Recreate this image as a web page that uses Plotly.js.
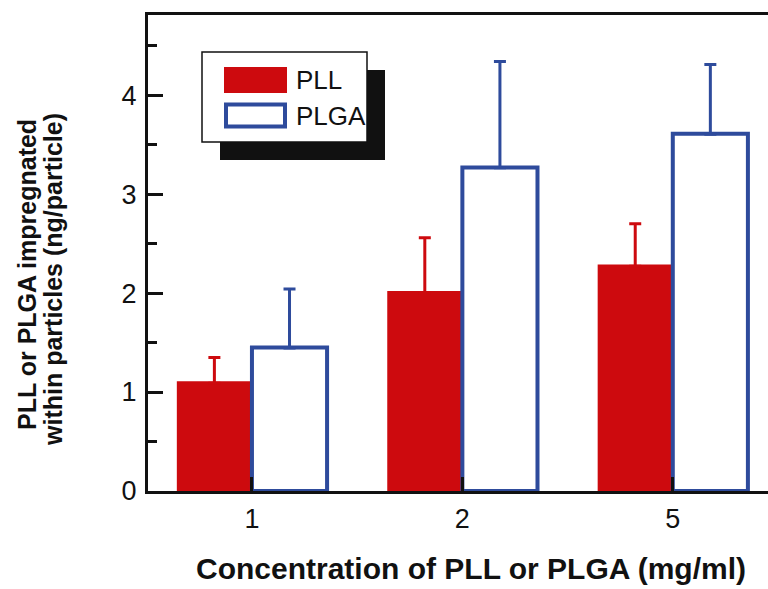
<!DOCTYPE html>
<html><head><meta charset="utf-8">
<script src="https://cdn.plot.ly/plotly-3.0.1.min.js"></script>
<style>html,body{margin:0;padding:0;overflow:hidden;background:#fff}#chart{width:790px;height:589px}</style>
</head><body><div id="chart"></div>
<script>
const categories = ['1', '2', '5'];
const pllValues = [1.11, 2.02, 2.29];
const pllErrors = [0.24, 0.54, 0.41];
const plgaValues = [1.45, 3.27, 3.61];
const plgaErrors = [0.59, 1.07, 0.70];
const yTickVals = [0, 1, 2, 3, 4];
const yTickText = ['0', '1', '2', '3', '4'];

const RED = '#cd0a0e', BLUE = '#2e4b9c';
const SANS = '"Liberation Sans", Arial, sans-serif';
// tuck the lower cap of the one-sided error bars inside the bar top / outline (styling only)
const redInset = categories.map(() => 0.02);
const blueInset = categories.map(() => 0.004);

const traces = [
  {type:'bar', name:'PLL', x:categories, y:pllValues,
   marker:{color:RED, line:{width:0}},
   error_y:{type:'data', symmetric:false, array:pllErrors, arrayminus:redInset, color:RED, thickness:3, width:6}},
  {type:'bar', name:'PLGA', x:categories, y:plgaValues,
   marker:{color:'#ffffff', line:{color:BLUE, width:4}},
   error_y:{type:'data', symmetric:false, array:plgaErrors, arrayminus:blueInset, color:BLUE, thickness:3, width:6}}
];

// pixel -> paper helpers for the decorative legend and titles
const L=148, R=778, T=15, B=491;
const px = v => (v - L) / (R - L);
const py = v => (B - v) / (B - T);

const shapes = [
  {type:'rect', xref:'paper', yref:'paper', x0:px(220), x1:px(385), y0:py(160), y1:py(70), fillcolor:'#111', line:{width:0}, layer:'above'},
  {type:'rect', xref:'paper', yref:'paper', x0:px(202), x1:px(367), y0:py(142), y1:py(52), fillcolor:'#fff', line:{color:'#111', width:1.5}, layer:'above'},
  {type:'rect', xref:'paper', yref:'paper', x0:px(224), x1:px(287), y0:py(93), y1:py(67), fillcolor:RED, line:{width:0}, layer:'above'},
  {type:'rect', xref:'paper', yref:'paper', x0:px(226), x1:px(285), y0:py(126.5), y1:py(104.5), fillcolor:'#fff', line:{color:BLUE, width:4}, layer:'above'}
];

const annotations = [
  {xref:'paper', yref:'paper', x:px(294), y:py(80), xanchor:'left', yanchor:'middle', text:'PLL', showarrow:false, font:{family:SANS, size:26, color:'#111'}},
  {xref:'paper', yref:'paper', x:px(294), y:py(116), xanchor:'left', yanchor:'middle', text:'PLGA', showarrow:false, font:{family:SANS, size:26, color:'#111'}},
  {xref:'paper', yref:'paper', x:px(27), y:py(275), xanchor:'center', yanchor:'middle', textangle:-90, showarrow:false,
   text:'<b>PLL or PLGA impregnated</b>', font:{family:SANS, size:25, color:'#111'}},
  {xref:'paper', yref:'paper', x:px(53), y:py(280), xanchor:'center', yanchor:'middle', textangle:-90, showarrow:false,
   text:'<b>within particles (ng/particle)</b>', font:{family:SANS, size:25, color:'#111'}},
  {xref:'paper', yref:'paper', x:px(471), y:py(568), xanchor:'center', yanchor:'middle', showarrow:false,
   text:'<b>Concentration of PLL or PLGA (mg/ml)</b>', font:{family:SANS, size:30, color:'#111'}}
];

const layout = {
  width:790, height:589,
  margin:{l:L, r:790-R, t:T, b:589-B},
  paper_bgcolor:'#fff', plot_bgcolor:'#fff',
  showlegend:false,
  barmode:'group', bargap:0.286, bargroupgap:0,
  xaxis:{type:'category', range:[-0.494, 2.5], showline:true, linecolor:'#111', linewidth:3, mirror:true,
    ticks:'inside', ticklen:14, tickwidth:3, tickcolor:'#111', showgrid:false, zeroline:false,
    tickfont:{family:SANS, size:27, color:'#111'}, ticklabelstandoff:2},
  yaxis:{range:[0, 4.81], showline:true, linecolor:'#111', linewidth:3, mirror:true,
    ticks:'inside', ticklen:15, tickwidth:3, tickcolor:'#111', showgrid:false, zeroline:false,
    tickvals:yTickVals, ticktext:yTickText,
    minor:{dtick:0.5, ticks:'inside', ticklen:9, tickwidth:3, tickcolor:'#111', showgrid:false},
    tickfont:{family:SANS, size:27, color:'#111'}, ticklabelstandoff:3},
  shapes:shapes, annotations:annotations
};

Plotly.newPlot('chart', traces, layout, {displayModeBar:false, staticPlot:true});
</script></body></html>
